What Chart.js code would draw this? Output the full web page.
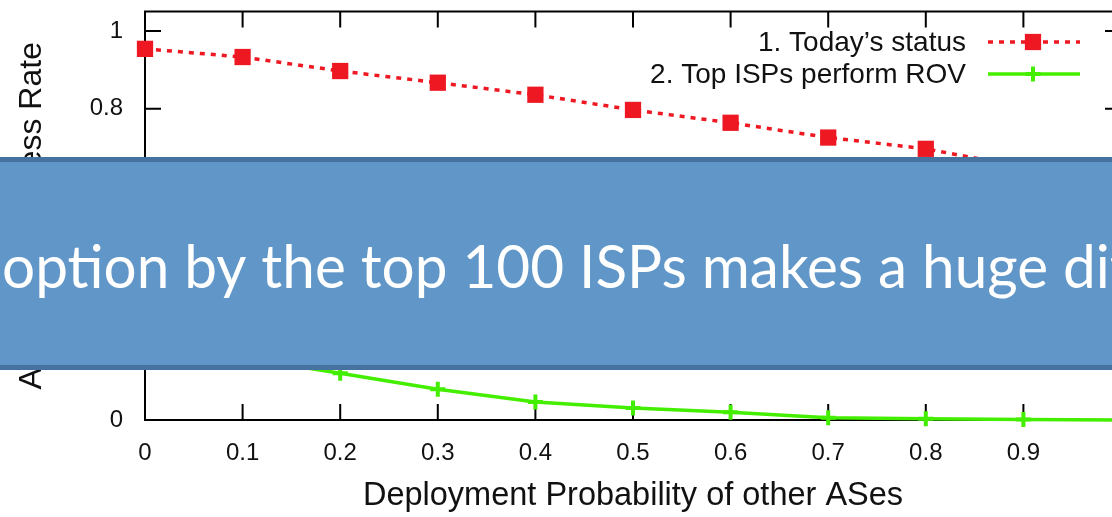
<!DOCTYPE html>
<html>
<head>
<meta charset="utf-8">
<script src="https://cdn.jsdelivr.net/npm/chart.js@4.4.0/dist/chart.umd.min.js"></script>
<style>
  html, body { margin: 0; padding: 0; background: #fff; overflow: hidden; }
  #wrap { position: relative; width: 1140px; height: 517px; }
</style>
</head>
<body>
<div id="wrap"><canvas id="chart" width="1140" height="517"></canvas></div>
<script>
// deployment probability of the other ASes
const xValues = [0, 0.1, 0.2, 0.3, 0.4, 0.5, 0.6, 0.7, 0.8, 0.9, 1];
// 1. today's status
const todayStatus = [0.954, 0.933, 0.897, 0.867, 0.836, 0.797, 0.764, 0.726, 0.697, 0.65, 0.61];
// 2. top ISPs perform ROV
const topIspsRov = [0.22, 0.16, 0.12, 0.079, 0.046, 0.031, 0.02, 0.006, 0.003, 0.001, 0];
const seriesNames = ['1. Today\u2019s status', '2. Top ISPs perform ROV'];
const xTicks = [0, 0.1, 0.2, 0.3, 0.4, 0.5, 0.6, 0.7, 0.8, 0.9, 1];
const yTicks = [0, 0.2, 0.4, 0.6, 0.8, 1];
const xTitle = 'Deployment Probability of other ASes';
const yTitle = 'Attacker\u2019s Success Rate';
const bannerText = 'Adoption by the top 100 ISPs makes a huge difference';

const RED = '#ee1822';
const GREEN = '#44ee00';
const FONT = '"Liberation Sans", Arial, sans-serif';

const fmt = v => String(Math.round(v * 10) / 10);

// gnuplot style box with inward ticks on all four sides
const frame = {
  id: 'frame',
  beforeDatasetsDraw(chart) {
    const { ctx, chartArea: a, scales: { x, y } } = chart;
    ctx.save();
    ctx.strokeStyle = '#000';
    ctx.lineWidth = 2;
    ctx.beginPath();
    x.ticks.forEach(t => {
      const px = x.getPixelForValue(t.value);
      ctx.moveTo(px, a.bottom); ctx.lineTo(px, a.bottom - 16);
      ctx.moveTo(px, a.top); ctx.lineTo(px, a.top + 16);
    });
    y.ticks.forEach(t => {
      const py = y.getPixelForValue(t.value);
      ctx.moveTo(a.left, py); ctx.lineTo(a.left + 16, py);
      ctx.moveTo(a.right, py); ctx.lineTo(a.right - 16, py);
    });
    ctx.stroke();
    ctx.strokeRect(a.left, a.top, a.right - a.left, a.bottom - a.top);
    ctx.restore();
  }
};

// key in the top right corner: text, then line sample with marker
const key = {
  id: 'key',
  afterDatasetsDraw(chart) {
    const { ctx } = chart;
    ctx.save();
    ctx.font = '28px ' + FONT;
    ctx.textAlign = 'right';
    ctx.fillStyle = '#111';
    chart.data.datasets.forEach((ds, i) => {
      const yMid = 42 + i * 32;
      ctx.fillText(ds.label, 966, yMid + 9);
      ctx.strokeStyle = ds.borderColor;
      ctx.lineWidth = ds.borderWidth;
      ctx.setLineDash(ds.borderDash || []);
      ctx.beginPath();
      ctx.moveTo(988, yMid); ctx.lineTo(1080, yMid);
      ctx.stroke();
      ctx.setLineDash([]);
      const r = ds.pointRadius;
      if (ds.pointStyle === 'rect') {
        const h = r * Math.SQRT1_2;
        ctx.fillStyle = ds.pointBackgroundColor;
        ctx.fillRect(1033 - h, yMid - h, 2 * h, 2 * h);
        ctx.fillStyle = '#111';
      } else {
        ctx.strokeStyle = ds.pointBorderColor;
        ctx.lineWidth = ds.pointBorderWidth;
        ctx.beginPath();
        ctx.moveTo(1033 - r, yMid); ctx.lineTo(1033 + r, yMid);
        ctx.moveTo(1033, yMid - r); ctx.lineTo(1033, yMid + r);
        ctx.stroke();
      }
    });
    ctx.restore();
  }
};

// slide banner laid over the figure
const banner = {
  id: 'banner',
  afterDraw(chart) {
    const { ctx, width } = chart;
    ctx.save();
    ctx.fillStyle = '#45729e';
    ctx.fillRect(0, 157, width, 213);
    ctx.fillStyle = '#6096c8';
    ctx.fillRect(0, 162, width, 203);
    ctx.font = '60px Lato, "Open Sans", sans-serif';
    ctx.fillStyle = '#fff';
    // "o" of "option" starts near x=2, "d" of "di..." near x=1063
    const upToD = ctx.measureText('option by the top 100 ISPs makes a huge ').width;
    const s = 1061 / upToD;
    const lead = ctx.measureText('Ad').width;
    ctx.translate(2, 288);
    ctx.scale(s, 1);
    ctx.fillText(bannerText, -lead, 0);
    ctx.restore();
  }
};

const noPad = s => { s.paddingLeft = s.paddingRight = s.paddingTop = s.paddingBottom = 0; };

new Chart(document.getElementById('chart').getContext('2d'), {
  type: 'line',
  data: {
    datasets: [
      {
        label: seriesNames[0],
        data: xValues.map((x, i) => ({ x, y: todayStatus[i] })),
        borderColor: RED,
        borderWidth: 3.5,
        borderDash: [5, 6],
        pointStyle: 'rect',
        pointRadius: 11.5,
        pointBackgroundColor: RED,
        pointBorderWidth: 0,
        tension: 0,
        clip: false
      },
      {
        label: seriesNames[1],
        data: xValues.map((x, i) => ({ x, y: topIspsRov[i] })),
        borderColor: GREEN,
        borderWidth: 3.5,
        pointStyle: 'cross',
        pointRadius: 7.5,
        pointBorderColor: GREEN,
        pointBorderWidth: 4,
        tension: 0,
        clip: false
      }
    ]
  },
  options: {
    responsive: false,
    animation: false,
    devicePixelRatio: 1,
    layout: { padding: { left: 0, top: 10, right: 19, bottom: 0 } },
    plugins: { legend: { display: false }, tooltip: { enabled: false } },
    scales: {
      x: {
        type: 'linear',
        min: 0,
        max: 1,
        grid: { display: false, drawTicks: false },
        border: { display: false },
        afterBuildTicks: s => { s.ticks = xTicks.map(value => ({ value })); },
        afterFit: s => { s.height = 97; noPad(s); },
        ticks: {
          padding: 19,
          maxRotation: 0,
          autoSkip: false,
          color: '#111',
          font: { family: FONT, size: 24 },
          callback: v => fmt(v)
        },
        title: {
          display: true,
          text: xTitle,
          color: '#111',
          font: { family: FONT, size: 32.5 },
          padding: { top: 0, bottom: 1 }
        }
      },
      y: {
        type: 'linear',
        min: 0,
        max: 1.05,
        grid: { display: false, drawTicks: false },
        border: { display: false },
        afterBuildTicks: s => { s.ticks = yTicks.map(value => ({ value })); },
        afterFit: s => { s.width = 145; noPad(s); },
        ticks: {
          padding: 22,
          autoSkip: false,
          color: '#111',
          font: { family: FONT, size: 24 },
          callback: v => fmt(v)
        },
        title: {
          display: true,
          text: yTitle,
          color: '#111',
          font: { family: FONT, size: 32 },
          padding: { top: 13, bottom: 0 }
        }
      }
    }
  },
  plugins: [frame, key, banner]
});
</script>
</body>
</html>
